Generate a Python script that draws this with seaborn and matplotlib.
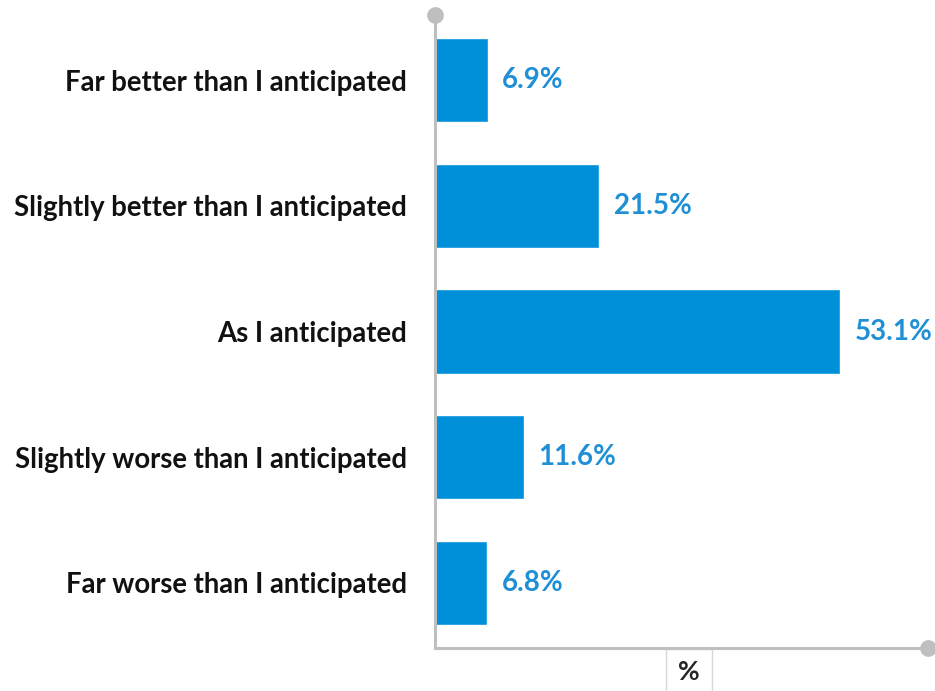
import pandas as pd
import seaborn as sns
import matplotlib.pyplot as plt

# Survey answers and share of respondents (%)
categories = [
    "Far better than I anticipated",
    "Slightly better than I anticipated",
    "As I anticipated",
    "Slightly worse than I anticipated",
    "Far worse than I anticipated",
]
values = [6.9, 21.5, 53.1, 11.6, 6.8]

df = pd.DataFrame({"answer": categories, "pct": values})

sns.set_style("white")
plt.rcParams["font.family"] = ["Lato", "DejaVu Sans"]

fig = plt.figure(figsize=(9.35, 6.91), dpi=100)
ax = fig.add_axes([435 / 935, 1 - 648 / 691, (928 - 435) / 935, (648 - 15) / 691])

sns.barplot(data=df, x="pct", y="answer", orient="h", color="#0090DA",
            saturation=1, width=0.67, ax=ax)

ax.set_xlim(0, 64.6)
ax.set_ylim(4.52, -0.52)

# value labels
for i, v in enumerate(values):
    ax.text(v + 1.9, i, f"{v:.1f}%", va="center", ha="left",
            color="#1F8FD6", fontsize=20, fontweight="bold")

# axis styling
for s in ["top", "right"]:
    ax.spines[s].set_visible(False)
for s in ["left", "bottom"]:
    ax.spines[s].set_color("#BFBFBF")
    ax.spines[s].set_linewidth(2.2)
ax.set_xticks([])
ax.tick_params(axis="y", length=0, pad=20)
for lbl in ax.get_yticklabels():
    lbl.set_fontsize(19.8)
    lbl.set_fontweight("bold")
    lbl.set_color("#111111")
ax.set_ylabel("")

# end circles on axis lines
ax.plot([0], [1], marker="o", ms=11, color="#BFBFBF", transform=ax.transAxes, clip_on=False)
ax.plot([1], [0], marker="o", ms=11, color="#BFBFBF", transform=ax.transAxes, clip_on=False)

# boxed "%" axis title
ax.set_xlabel("%", fontsize=19, fontweight="bold", labelpad=9,
              bbox=dict(boxstyle="square,pad=0.45", fc="white", ec="#D9D9D9", lw=1))
ax.xaxis.label.set_x(0.515)

fig.savefig("out.png", dpi=100)
